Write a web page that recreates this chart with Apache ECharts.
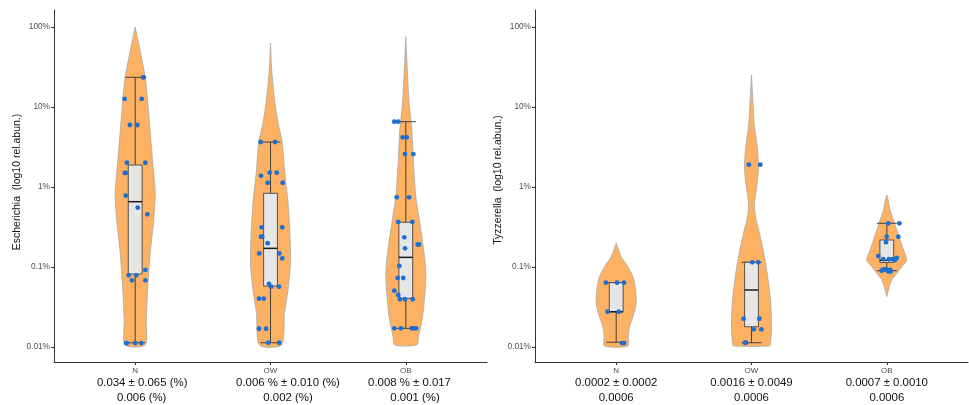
<!DOCTYPE html>
<html>
<head>
<meta charset="utf-8">
<script src="https://cdn.jsdelivr.net/npm/echarts@6/dist/echarts.min.js"></script>
<style>
html,body{margin:0;padding:0;background:#fff;}
#chart{width:969px;height:405px;}
</style>
</head>
<body>
<div id="chart"></div>
<script>
// ---------- data ----------
const categories = ['N', 'OW', 'OB'];
const yTickValues = [-2, -1, 0, 1, 2];          // log10 of percent
const yTickLabels = ['0.01%', '0.1%', '1%', '10%', '100%'];

const leftTitle = 'Escherichia  (log10 rel.abun.)';
const rightTitle = 'Tyzzerella  (log10 rel.abun.)';

const leftStatsMean = ['0.034 ± 0.065 (%)', '0.006 % ± 0.010 (%)', '0.008 % ± 0.017'];
const leftStatsMedian = ['0.006 (%)', '0.002 (%)', '0.001 (%)'];
const rightStatsMean = ['0.0002 ± 0.0002', '0.0016 ± 0.0049', '0.0007 ± 0.0010'];
const rightStatsMedian = ['0.0006', '0.0006', '0.0006'];

// violin density profiles: [relative abundance %, relative density 0..1], top to bottom
const violinLeftN = [[100,0],[23.5,0.5],[6.88,0.7],[2.0,0.875],[0.84,1.0],[0.387,0.925],[0.150,0.75],[0.0562,0.625],[0.0218,0.55],[0.0106,0.5]];
const violinLeftOW = [[63,0],[31.6,0.05],[13.5,0.185],[6.31,0.375],[3.68,0.585],[1.63,0.7],[0.631,0.875],[0.239,0.975],[0.111,1.0],[0.0516,0.875],[0.0264,0.7],[0.0106,0.55]];
const violinLeftOB = [[75.7,0],[21.8,0.1],[11.1,0.165],[5.16,0.3],[1.98,0.385],[0.756,0.5],[0.352,0.7],[0.1345,0.935],[0.0794,1.0],[0.0516,0.965],[0.0239,0.835],[0.01346,0.635],[0.0106,0.55]];
const violinRightN = [[0.198,0],[0.1345,0.25],[0.101,0.585],[0.0756,0.835],[0.0567,0.95],[0.0352,1.0],[0.0239,0.835],[0.0179,0.665],[0.01346,0.6],[0.0103,0.585]];
const violinRightOW = [[25,0],[11.2,0.075],[5.67,0.15],[3.19,0.285],[1.79,0.35],[1.11,0.285],[0.625,0.15],[0.425,0.2],[0.264,0.4],[0.148,0.615],[0.0834,0.785],[0.0387,0.95],[0.0179,1.0],[0.0111,0.95],[0.0103,0.9]];
const violinRightOB = [[0.794,0],[0.631,0.1],[0.516,0.165],[0.387,0.335],[0.29,0.5],[0.2175,0.665],[0.163,0.835],[0.1223,1.0],[0.101,0.75],[0.0834,0.5],[0.0688,0.25],[0.0567,0.125],[0.0426,0]];

// box stats: [lower whisker, Q1, median, Q3, upper whisker] in %
const boxLeft = [
  [0.0113, 0.0818, 0.655, 1.88, 23.5],
  [0.0113, 0.0579, 0.171, 0.834, 3.65],
  [0.0171, 0.0406, 0.132, 0.362, 6.55]
];
const boxRight = [
  [0.01146, 0.0276, 0.0276, 0.0637, 0.0637],
  [0.0113, 0.0179, 0.0516, 0.1145, 0.1145],
  [0.0899, 0.114, 0.1215, 0.2175, 0.352]
];

// jittered points: [category position, relative abundance %]
const pointsLeftN = [[1.063,23.5],[1.058,23.5],[0.922,12.6],[1.048,12.6],[0.961,5.96],[1.016,5.96],[0.939,2.01],[1.075,2.01],[0.924,1.50],[0.930,1.50],[0.930,0.779],[1.019,0.551],[1.090,0.456],[1.075,0.0918],[0.952,0.0787],[1.008,0.0787],[0.976,0.0682],[1.075,0.0682],[0.932,0.0112],[0.939,0.0112],[1.0,0.0112],[1.045,0.0112]];
const pointsLeftOW = [[1.927,3.65],[2.033,3.65],[1.930,1.38],[1.994,1.51],[2.046,1.51],[1.979,1.13],[2.090,1.13],[1.935,0.313],[2.087,0.313],[1.930,0.239],[1.939,0.239],[1.979,0.198],[1.917,0.148],[2.065,0.148],[2.087,0.128],[1.989,0.0613],[2.004,0.0567],[2.063,0.0567],[1.915,0.0402],[1.950,0.0402],[1.915,0.0169],[1.967,0.0169],[1.984,0.0113],[2.065,0.0113]];
const pointsLeftOB = [[2.915,6.55],[2.944,6.55],[2.977,4.18],[3.007,4.18],[2.994,2.58],[3.056,2.58],[2.933,0.743],[3.024,0.743],[2.944,0.365],[3.048,0.365],[2.989,0.235],[3.088,0.191],[3.098,0.191],[2.994,0.171],[2.952,0.103],[2.940,0.0729],[2.981,0.0729],[2.915,0.0506],[2.944,0.0447],[2.957,0.0395],[2.994,0.0395],[3.051,0.0395],[2.915,0.0171],[2.964,0.0171],[3.044,0.0171],[3.061,0.0171],[3.076,0.0171]];
const pointsRightN = [[0.924,0.0637],[1.006,0.0637],[1.058,0.0637],[0.936,0.0276],[1.019,0.0276],[1.043,0.0112],[1.058,0.0112]];
const pointsRightOW = [[1.981,1.90],[2.065,1.90],[2.006,0.1145],[2.050,0.1145],[1.942,0.0226],[2.058,0.0226],[2.016,0.0166],[2.073,0.0166],[1.952,0.0113],[1.959,0.0113]];
const pointsRightOB = [[3.011,0.352],[3.093,0.352],[2.999,0.239],[3.085,0.239],[2.994,0.204],[2.937,0.137],[3.073,0.130],[3.044,0.125],[3.016,0.125],[2.974,0.125],[3.061,0.122],[2.974,0.093],[2.994,0.093],[3.024,0.092],[2.962,0.090],[3.011,0.088],[3.029,0.088]];

// ---------- styling ----------
const FONT = '"Liberation Sans", Arial, Helvetica, sans-serif';
const ORANGE = '#fdb163';
const BLUE = '#1f6fd2';
const VIOLIN_HALF = 0.148;   // x-units at max density
const BOX_HALF = 0.051;
const CAP_HALF = 0.074;
// horizontal shift (px) of the summary lines under each tick, as in the reference
const leftLabelShift = [[7, 6.5], [17.5, 17.5], [3.7, 9.2]];
const rightLabelShift = [[0, 0], [0, 0], [0, 0]];

const lg = v => Math.log10(v);

function violinSeries(profiles, axisIdx) {
  return {
    type: 'custom',
    xAxisIndex: axisIdx, yAxisIndex: axisIdx,
    silent: true,
    z: 1,
    data: profiles.map((p, i) => [i + 1, 0]),
    renderItem: function (params, api) {
      const prof = profiles[params.dataIndex];
      const c = api.value(0);
      const right = prof.map(([v, w]) => api.coord([c + w * VIOLIN_HALF, lg(v)]));
      const left = prof.slice().reverse().map(([v, w]) => api.coord([c - w * VIOLIN_HALF, lg(v)]));
      return {
        type: 'polygon',
        shape: { points: right.concat(left), smooth: 0.25 },
        style: { fill: ORANGE, stroke: '#a8a8a8', lineWidth: 0.8 }
      };
    }
  };
}

function boxSeries(stats, axisIdx) {
  return {
    type: 'custom',
    xAxisIndex: axisIdx, yAxisIndex: axisIdx,
    silent: true,
    z: 2,
    data: stats.map((s, i) => [i + 1, lg(s[2])]),
    renderItem: function (params, api) {
      const s = stats[params.dataIndex];
      const c = api.value(0);
      const pLow = api.coord([c, lg(s[0])]);
      const pHigh = api.coord([c, lg(s[4])]);
      const q1L = api.coord([c - BOX_HALF, lg(s[1])]);
      const q3R = api.coord([c + BOX_HALF, lg(s[3])]);
      const medL = api.coord([c - BOX_HALF, lg(s[2])]);
      const medR = api.coord([c + BOX_HALF, lg(s[2])]);
      const capLL = api.coord([c - CAP_HALF, lg(s[0])]);
      const capLR = api.coord([c + CAP_HALF, lg(s[0])]);
      const capHL = api.coord([c - CAP_HALF, lg(s[4])]);
      const capHR = api.coord([c + CAP_HALF, lg(s[4])]);
      const lineStyle = { stroke: '#333333', lineWidth: 0.9 };
      return {
        type: 'group',
        children: [
          { type: 'line', shape: { x1: pLow[0], y1: pLow[1], x2: pHigh[0], y2: pHigh[1] }, style: lineStyle },
          { type: 'line', shape: { x1: capLL[0], y1: capLL[1], x2: capLR[0], y2: capLR[1] }, style: lineStyle },
          { type: 'line', shape: { x1: capHL[0], y1: capHL[1], x2: capHR[0], y2: capHR[1] }, style: lineStyle },
          { type: 'rect', shape: { x: q1L[0], y: q3R[1], width: q3R[0] - q1L[0], height: q1L[1] - q3R[1] },
            style: { fill: '#e6e6e6', stroke: '#333333', lineWidth: 0.8 } },
          { type: 'line', shape: { x1: medL[0], y1: medL[1], x2: medR[0], y2: medR[1] },
            style: { stroke: '#1a1a1a', lineWidth: 1.5 } }
        ]
      };
    }
  };
}

function pointSeries(groups, axisIdx) {
  const data = [];
  groups.forEach(g => g.forEach(([x, v]) => data.push([x, lg(v)])));
  return {
    type: 'scatter',
    xAxisIndex: axisIdx, yAxisIndex: axisIdx,
    silent: true,
    z: 3,
    symbolSize: 4.8,
    itemStyle: { color: BLUE, opacity: 1 },
    data: data
  };
}

function xAxis(gridIdx, means, medians, shifts) {
  const rich = {
    c: { fontSize: 8, color: '#4d4d4d', fontFamily: FONT, lineHeight: 11, align: 'center' }
  };
  shifts.forEach((s, i) => {
    rich['m' + i] = { fontSize: 11.4, color: '#111111', fontFamily: FONT, lineHeight: 14, align: 'center',
                      padding: [0, 0, 0, 2 * s[0]] };
    rich['d' + i] = { fontSize: 11.4, color: '#111111', fontFamily: FONT, lineHeight: 15, align: 'center',
                      padding: [0, 0, 0, 2 * s[1]] };
  });
  return {
    type: 'value', gridIndex: gridIdx, min: 0.4, max: 3.6,
    axisLine: { show: true, onZero: false, lineStyle: { color: '#333333', width: 1 } },
    axisTick: { show: true, length: 3, customValues: [1, 2, 3], lineStyle: { color: '#333333' } },
    splitLine: { show: false },
    axisLabel: {
      show: true, margin: 3,
      customValues: [1, 2, 3],
      formatter: function (v) {
        const i = Math.round(v) - 1;
        return '{c|' + categories[i] + '}\n{m' + i + '|' + means[i] + '}\n{d' + i + '|' + medians[i] + '}';
      },
      rich: rich
    }
  };
}

function yAxis(gridIdx, title, gap, shiftUp) {
  return {
    type: 'value', gridIndex: gridIdx, min: -2.1875, max: 2.2125,
    name: title, nameLocation: 'middle', nameGap: gap, nameRotate: 90,
    nameTextStyle: { fontSize: 10.5, color: '#111111', fontFamily: FONT, padding: [0, 0, 0, 2 * shiftUp] },
    axisLine: { show: true, onZero: false, lineStyle: { color: '#333333', width: 1 } },
    axisTick: { show: true, length: 3, customValues: yTickValues, lineStyle: { color: '#333333' } },
    splitLine: { show: false },
    axisLabel: {
      show: true, margin: 4, customValues: yTickValues,
      fontSize: 8.3, color: '#4d4d4d', fontFamily: FONT,
      formatter: function (v) {
        const i = yTickValues.indexOf(Math.round(v));
        return i >= 0 ? yTickLabels[i] : '';
      }
    }
  };
}

const chart = echarts.init(document.getElementById('chart'), null, { renderer: 'canvas' });
chart.setOption({
  animation: false,
  backgroundColor: '#ffffff',
  grid: [
    { left: 54, top: 10, width: 433, height: 352 },
    { left: 535, top: 10, width: 433, height: 352 }
  ],
  xAxis: [
    xAxis(0, leftStatsMean, leftStatsMedian, leftLabelShift),
    xAxis(1, rightStatsMean, rightStatsMedian, rightLabelShift)
  ],
  yAxis: [
    yAxis(0, leftTitle, 27, 4),
    yAxis(1, rightTitle, 29, 6)
  ],
  series: [
    violinSeries([violinLeftN, violinLeftOW, violinLeftOB], 0),
    boxSeries(boxLeft, 0),
    pointSeries([pointsLeftN, pointsLeftOW, pointsLeftOB], 0),
    violinSeries([violinRightN, violinRightOW, violinRightOB], 1),
    boxSeries(boxRight, 1),
    pointSeries([pointsRightN, pointsRightOW, pointsRightOB], 1)
  ]
});
</script>
</body>
</html>
